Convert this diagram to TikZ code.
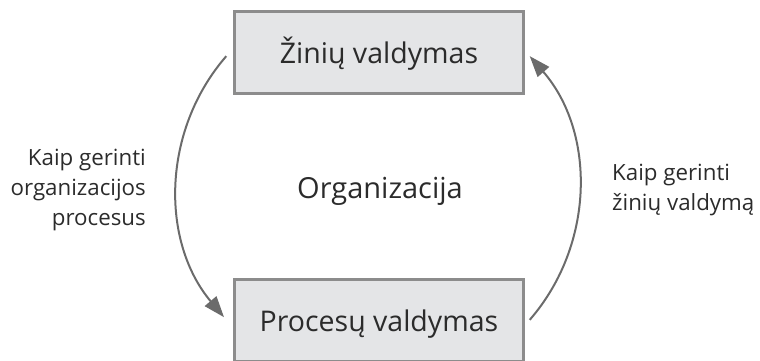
\documentclass[tikz,border=0pt]{standalone}
\usepackage{fontspec}
\setmainfont{Open Sans}
\usetikzlibrary{arrows.meta}
\definecolor{inkc}{HTML}{2B2B2B}
\definecolor{arrc}{HTML}{6B6B6B}
\definecolor{boxline}{HTML}{8C8C8C}
\definecolor{boxfill}{HTML}{E4E5E7}
\begin{document}
\begin{tikzpicture}[x=1pt,y=1pt,
  box/.style={draw=boxline, fill=boxfill, line width=3pt,
    minimum width=289pt, minimum height=82pt, inner sep=0pt,
    font=\fontsize{28.5}{30}\selectfont, text=inkc,
    text height=26pt, text depth=5pt},
  side/.style={font=\fontsize{22.3}{30}\selectfont, text=inkc, inner sep=0pt},
  cyc/.style={draw=arrc, line width=2pt,
    -{Triangle[length=21pt,width=15pt]}}]
\useasboundingbox (0,0) rectangle (760,360);
\clip (0,0) rectangle (760,360);
% the two management areas
\node[box] (kn) at (379,307.5) {Žinių valdymas};
\node[box] (pr) at (379,39.5) {Procesų valdymas};
% centre label
\node[font=\fontsize{29}{30}\selectfont, text=inkc, inner sep=0pt, anchor=base]
  (org) at (380,162) {Organizacija};
% cycle arcs around the centre
\coordinate (c) at (378,172);
\coordinate (ls) at ([shift={(139:201)}]c);
\coordinate (rs) at ([shift={(-41:201)}]c);
\draw[cyc] (ls) arc[start angle=139, end angle=220, radius=201];
\draw[cyc] (rs) arc[start angle=-41, end angle=41, radius=201];
% arc labels (base anchor sits on the last line)
\node[side, align=right, anchor=base east] (lt) at (146,135)
  {Kaip gerinti\\organizacijos\\procesus};
\node[side, align=left, anchor=base west] (rt) at (612,150)
  {Kaip gerinti\\žinių valdymą};
\end{tikzpicture}
\end{document}
